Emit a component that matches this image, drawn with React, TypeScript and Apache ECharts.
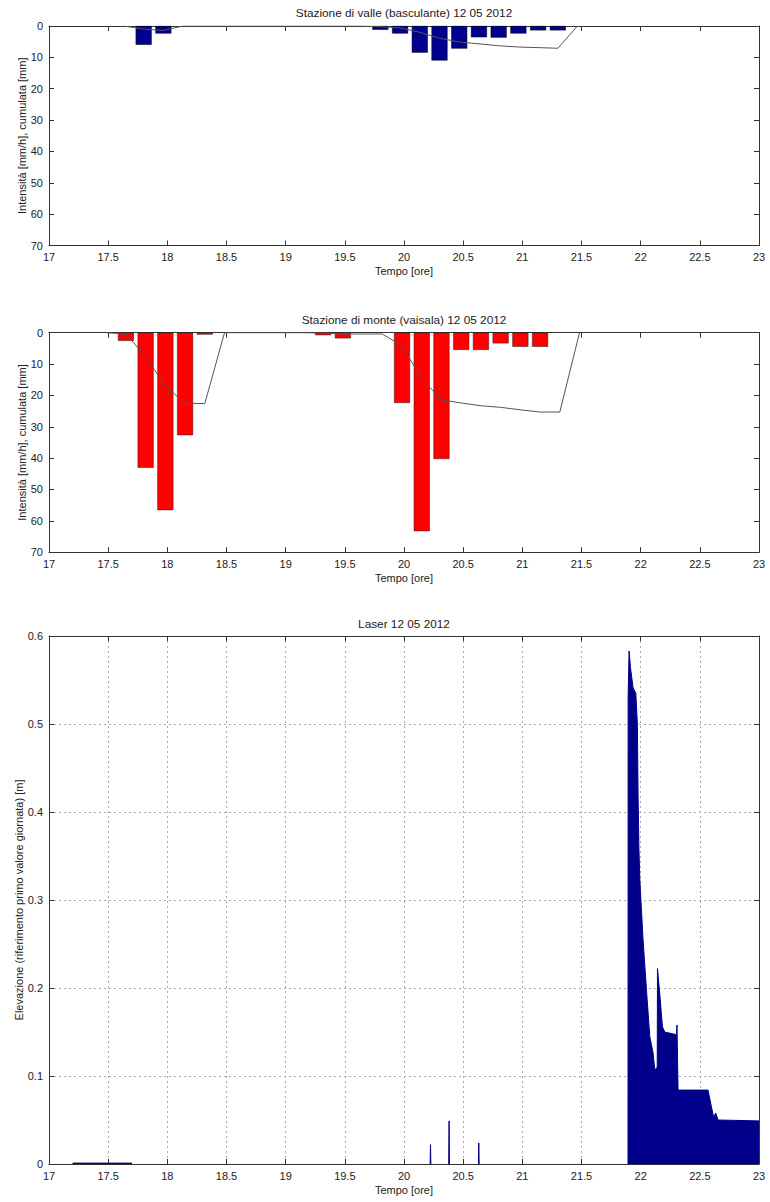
import React, { useEffect, useRef } from "react";
import * as echarts from "echarts";

// ---- Data ----
// Stazione di valle (basculante): 10-minute rain intensity [mm/h]
const valleTimes = ["17:48", "17:58", "19:48", "19:58", "20:08", "20:18", "20:28", "20:38", "20:48", "20:58", "21:08", "21:18"];
const valleIntensity = [6.0, 2.4, 1.2, 2.4, 8.5, 11.0, 7.2, 3.6, 3.7, 2.4, 1.4, 1.4];
// cumulative rain line [mm]
const valleCumTimes = ["17:38", "17:48", "17:58", "18:08", "19:38", "19:48", "19:58", "20:08", "20:18", "20:28", "20:38", "20:48", "20:58", "21:08", "21:18", "21:28"];
const valleCum = [0, 1.0, 1.4, 0, 0, 0.2, 0.6, 2.0, 3.9, 5.1, 5.7, 6.3, 6.7, 6.9, 7.1, 0];

// Stazione di monte (vaisala)
const monteTimes = ["17:39", "17:49", "17:59", "18:09", "18:19", "19:19", "19:29", "19:59", "20:09", "20:19", "20:29", "20:39", "20:49", "20:59", "21:09"];
const monteIntensity = [2.6, 43.1, 56.6, 32.7, 0.6, 0.8, 1.8, 22.4, 63.3, 40.3, 5.5, 5.5, 3.4, 4.5, 4.5];
const monteCumTimes = ["17:29", "17:39", "17:49", "17:59", "18:09", "18:19", "18:29", "19:09", "19:19", "19:29", "19:39", "19:49", "19:59", "20:09", "20:19", "20:29", "20:39", "20:49", "20:59", "21:09", "21:19", "21:29"];
const monteCum = [0, 0.4, 7.6, 17.0, 22.5, 22.6, 0, 0, 0.1, 0.4, 0.4, 0.4, 4.2, 14.7, 21.4, 22.4, 23.3, 23.8, 24.6, 25.3, 25.3, 0];

// Laser: elevation [m] vs time [hours]; null = no record (gap)
const laserTime = [
  17.2, 17.7, 17.71,
  20.221, 20.224, 20.227, 20.23,
  20.378, 20.381, 20.384, 20.387,
  20.629, 20.632, 20.635, 20.638,
  21.893, 21.894, 21.902, 21.914, 21.936, 21.959, 21.972, 21.978, 21.985, 21.993,
  22.02, 22.049, 22.077, 22.105, 22.119, 22.14, 22.142, 22.161, 22.184, 22.203,
  22.302, 22.307, 22.316, 22.569, 22.598, 22.617, 22.634, 22.654, 23.0,
];
const laserElev = [
  0.001, 0.001, null,
  0, 0.022, 0, null,
  0, 0.049, 0, null,
  0, 0.024, 0, null,
  0, 0.53, 0.583, 0.564, 0.541, 0.535, 0.5, 0.42, 0.36, 0.323,
  0.255, 0.198, 0.145, 0.126, 0.107, 0.11, 0.222, 0.194, 0.156, 0.15,
  0.147, 0.158, 0.084, 0.084, 0.065, 0.053, 0.058, 0.05, 0.049,
];

const xTicks = { min: 17, max: 23, interval: 0.5 };
const titles = ["Stazione di valle (basculante) 12 05 2012", "Stazione di monte (vaisala) 12 05 2012", "Laser 12 05 2012"];
const yNameRain = "Intensità [mm/h], cumulata [mm]";
const yNameLaser = "Elevazione (riferimento primo valore giornata) [m]";
const xName = "Tempo [ore]";

const FONT = "Liberation Sans, Arial, Helvetica, sans-serif";
const AXC = "#333";
const TXT = "#222";

const toH = (s: string) => {
  const [h, m] = s.split(":").map(Number);
  return h + m / 60;
};

const grids = [
  { left: 49, top: 26, width: 710, height: 219.5 },
  { left: 49, top: 332.7, width: 710, height: 219.5 },
  { left: 49, top: 636, width: 710, height: 528 },
];

function makeX(g: number, withGrid: boolean) {
  return [
    {
      type: "value",
      gridIndex: g,
      position: "bottom",
      min: xTicks.min,
      max: xTicks.max,
      interval: xTicks.interval,
      name: xName,
      nameLocation: "middle",
      nameGap: 20,
      nameMoveOverlap: false,
      nameTextStyle: { fontFamily: FONT, fontSize: 11, color: TXT },
      axisLine: { show: true, onZero: false, lineStyle: { color: AXC, width: 1 } },
      axisTick: { show: true, inside: true, length: 5, lineStyle: { color: AXC } },
      axisLabel: { show: true, margin: 6, fontFamily: FONT, fontSize: 11, color: TXT },
      splitLine: { show: withGrid, lineStyle: { color: "#aaa", type: [2, 3], width: 1 } },
    },
    {
      type: "value",
      gridIndex: g,
      position: "top",
      min: xTicks.min,
      max: xTicks.max,
      interval: xTicks.interval,
      axisLine: { show: true, onZero: false, lineStyle: { color: AXC, width: 1 } },
      axisTick: { show: true, inside: true, length: 5, lineStyle: { color: AXC } },
      axisLabel: { show: false },
      splitLine: { show: false },
    },
  ];
}

function makeY(g: number, min: number, max: number, interval: number, inverse: boolean, name: string, gap: number, withGrid: boolean, fmt?: (v: number) => string) {
  return [
    {
      type: "value",
      gridIndex: g,
      position: "left",
      min,
      max,
      interval,
      inverse,
      name,
      nameLocation: "middle",
      nameRotate: 90,
      nameGap: gap,
      nameMoveOverlap: false,
      nameTextStyle: { fontFamily: FONT, fontSize: 11, color: TXT },
      axisLine: { show: true, onZero: false, lineStyle: { color: AXC, width: 1 } },
      axisTick: { show: true, inside: true, length: 5, lineStyle: { color: AXC } },
      axisLabel: { show: true, margin: 6, fontFamily: FONT, fontSize: 11, color: TXT, formatter: fmt },
      splitLine: { show: withGrid, lineStyle: { color: "#aaa", type: [2, 3], width: 1 } },
    },
    {
      type: "value",
      gridIndex: g,
      position: "right",
      min,
      max,
      interval,
      inverse,
      axisLine: { show: true, onZero: false, lineStyle: { color: AXC, width: 1 } },
      axisTick: { show: true, inside: true, length: 5, lineStyle: { color: AXC } },
      axisLabel: { show: false },
      splitLine: { show: false },
    },
  ];
}

export default function App() {
  const ref = useRef<HTMLDivElement>(null);
  useEffect(() => {
    if (!ref.current) return;
    const chart = echarts.init(ref.current, undefined, { renderer: "svg" });
    const option: any = {
      animation: false,
      backgroundColor: "#fff",
      grid: grids.map((g) => ({ ...g, containLabel: false })),
      xAxis: [...makeX(0, false), ...makeX(1, false), ...makeX(2, true)],
      yAxis: [
        ...makeY(0, 0, 70, 10, true, yNameRain, 22, false),
        ...makeY(1, 0, 70, 10, true, yNameRain, 22, false),
        ...makeY(2, 0, 0.6, 0.1, false, yNameLaser, 25, true, (v: number) => String(+v.toFixed(1))),
      ],
      graphic: titles.map((t, i) => ({
        type: "text",
        x: 404,
        y: [13, 320, 624][i],
        style: { text: t, align: "center", verticalAlign: "middle", fontFamily: FONT, fontSize: 11.8, fill: TXT },
      })),
      series: [
        {
          type: "bar",
          xAxisIndex: 0,
          yAxisIndex: 0,
          barWidth: 16,
          data: valleTimes.map((t, i) => [toH(t), valleIntensity[i]]),
          itemStyle: { color: "#00008F", borderColor: "#000", borderWidth: 0.5 },
          z: 2,
        },
        {
          type: "line",
          xAxisIndex: 0,
          yAxisIndex: 0,
          symbol: "none",
          data: valleCumTimes.map((t, i) => [toH(t), valleCum[i]]),
          lineStyle: { color: "#555", width: 1 },
          z: 5,
        },
        {
          type: "bar",
          xAxisIndex: 2,
          yAxisIndex: 2,
          barWidth: 16,
          data: monteTimes.map((t, i) => [toH(t), monteIntensity[i]]),
          itemStyle: { color: "#FF0000", borderColor: "#222", borderWidth: 0.5 },
          z: 2,
        },
        {
          type: "line",
          xAxisIndex: 2,
          yAxisIndex: 2,
          symbol: "none",
          data: monteCumTimes.map((t, i) => [toH(t), monteCum[i]]),
          lineStyle: { color: "#555", width: 1 },
          z: 5,
        },
        {
          type: "line",
          xAxisIndex: 4,
          yAxisIndex: 4,
          symbol: "none",
          connectNulls: false,
          data: laserTime.map((t, i) => [t, laserElev[i] === null ? null : laserElev[i]]),
          lineStyle: { color: "#00008B", width: 1 },
          areaStyle: { color: "#00008B", opacity: 1 },
          z: 3,
        },
      ],
    };
    chart.setOption(option);
    return () => chart.dispose();
  }, []);
  return (
    <div
      ref={ref}
      style={{ position: "absolute", left: 0, top: 0, width: 770, height: 1202, background: "#fff" }}
    />
  );
}
